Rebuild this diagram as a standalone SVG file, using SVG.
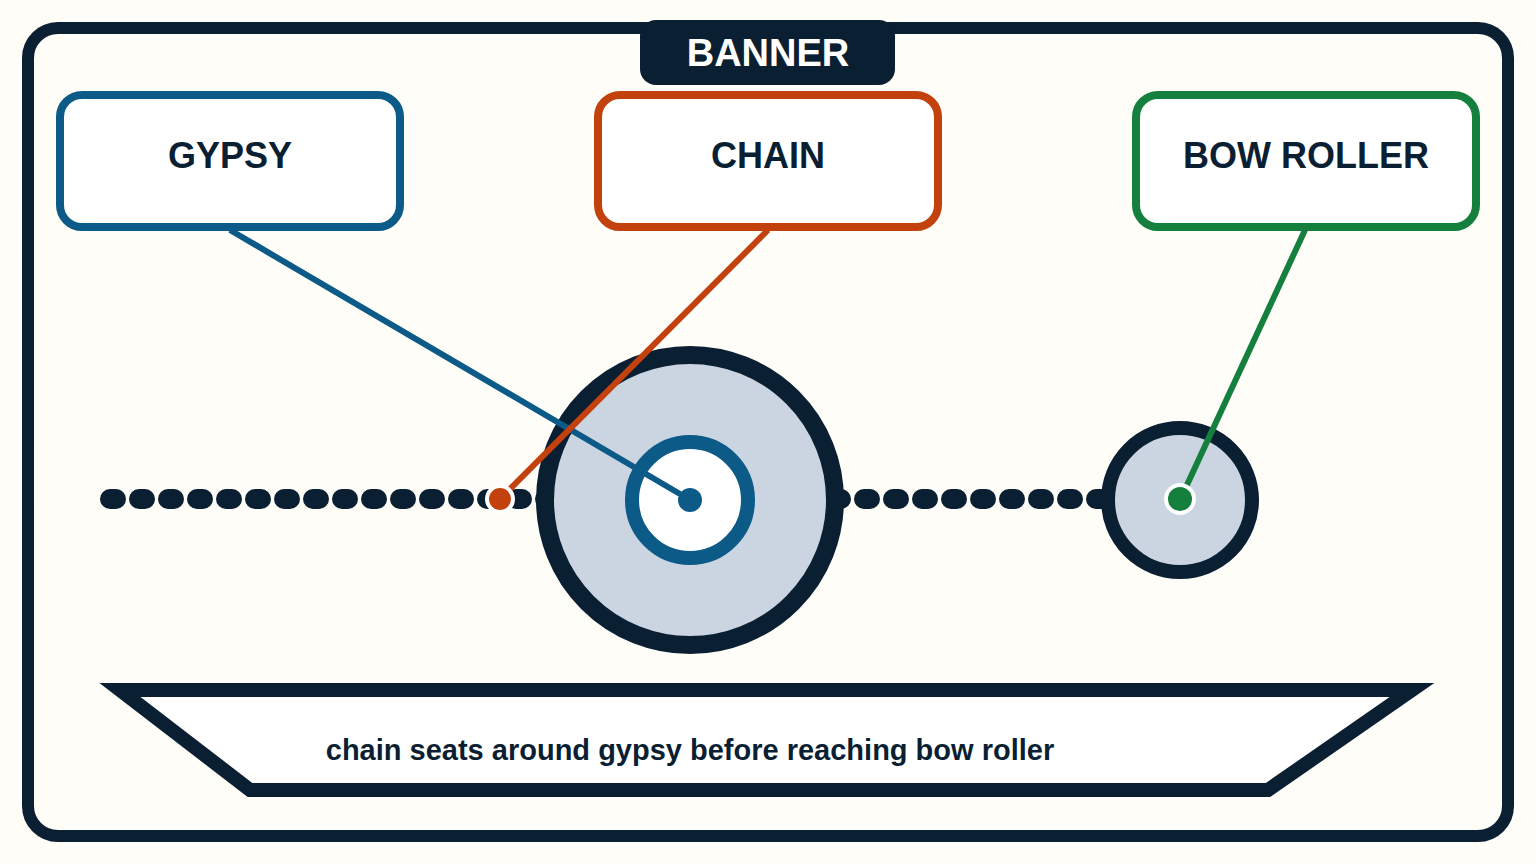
<svg xmlns="http://www.w3.org/2000/svg" width="1536" height="864" viewBox="0 0 1536 864">
<style>
.t{font-family:"Liberation Sans",Arial,sans-serif;font-weight:bold;fill:#0b1f33;text-anchor:middle}
.box{fill:#fff;stroke-width:8}
</style>
<rect width="1536" height="864" fill="#fffdf8"/>
<rect x="28" y="28" width="1480" height="808" rx="30" fill="#fffdf8" stroke="#0b1f33" stroke-width="12"/>
<g id="chain-links"><line x1="110" y1="499" x2="1110" y2="499" stroke="#0b1f33" stroke-width="20" stroke-linecap="round" stroke-dasharray="6 23"/></g>
<g id="gypsy-wheel">
<circle cx="690" cy="500" r="145" fill="#cbd5e1" stroke="#0b1f33" stroke-width="18"/>
<circle cx="690" cy="500" r="58" fill="#fff" stroke="#0b5a87" stroke-width="14"/>
</g>
<g id="roller-wheel"><circle cx="1180" cy="500" r="72" fill="#cbd5e1" stroke="#0b1f33" stroke-width="14"/></g>
<g id="connectors" stroke-width="6" fill="none">
<line x1="230" y1="230" x2="680" y2="494" stroke="#0b5a87"/>
<line x1="768" y1="230" x2="500" y2="499" stroke="#c2410c"/>
<line x1="1305" y1="230" x2="1180" y2="500" stroke="#15803d"/>
</g>
<circle cx="690" cy="500" r="12" fill="#0b5a87"/>
<circle cx="500" cy="499" r="13" fill="#c2410c" stroke="#fff" stroke-width="4"/>
<circle cx="1180" cy="499" r="14" fill="#15803d" stroke="#fff" stroke-width="4"/>
<g id="banner"><rect x="640" y="20" width="255" height="65" rx="16" fill="#0b1f33"/><text class="t" x="768" y="66" font-size="38" style="fill:#fff">BANNER</text></g>
<g id="gypsy"><rect class="box" x="60" y="95" width="340" height="132" rx="22" stroke="#0b5a87"/><text class="t" x="230" y="168" font-size="36">GYPSY</text></g>
<g id="chain"><rect class="box" x="598" y="95" width="340" height="132" rx="22" stroke="#c2410c"/><text class="t" x="768" y="168" font-size="36">CHAIN</text></g>
<g id="bow-roller"><rect class="box" x="1136" y="95" width="340" height="132" rx="22" stroke="#15803d"/><text class="t" x="1306" y="168" font-size="36">BOW ROLLER</text></g>
<g id="caption"><polygon points="120,690 1412,690 1268,790 250,790" fill="#fff" stroke="#0b1f33" stroke-width="14" stroke-linejoin="miter"/>
<text class="t" x="690" y="760" font-size="29">chain seats around gypsy before reaching bow roller</text></g>
</svg>
